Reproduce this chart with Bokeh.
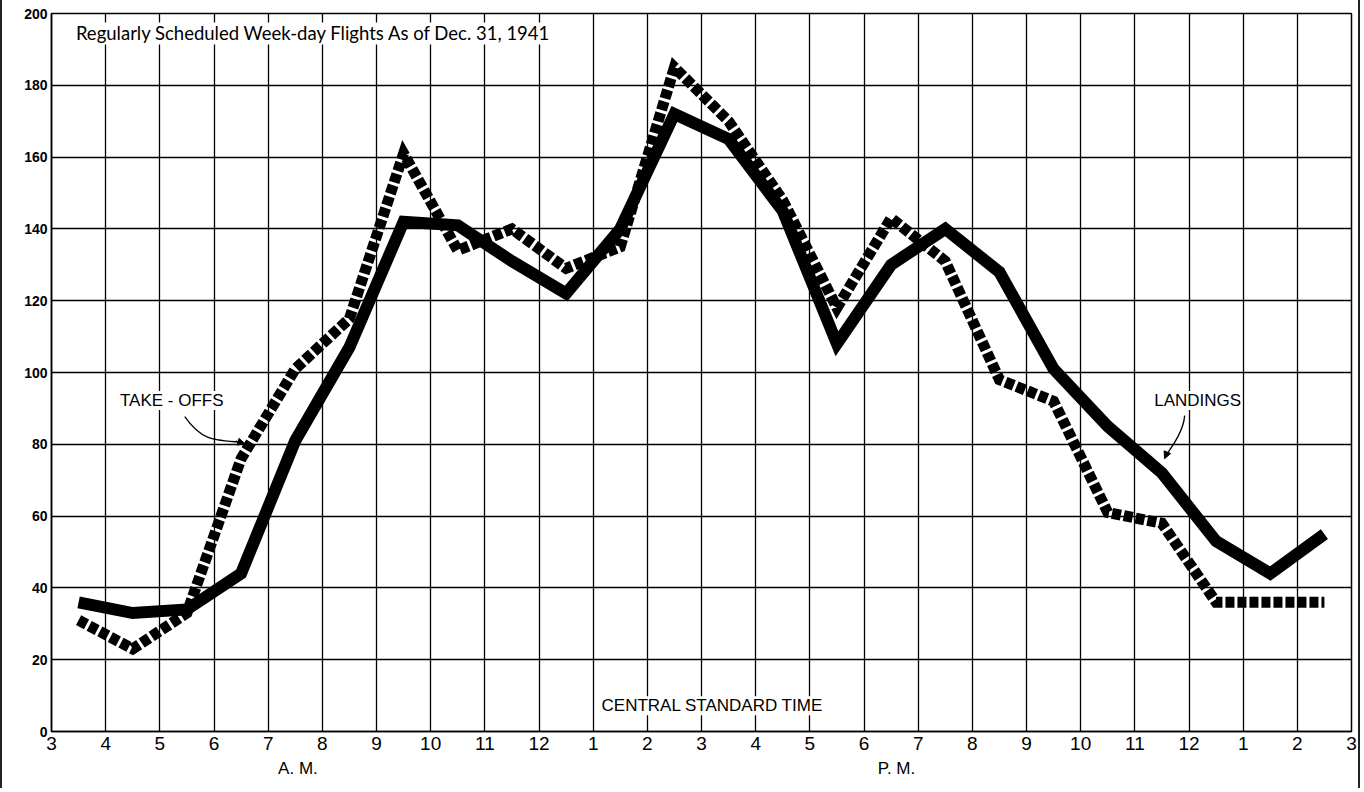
from bokeh.plotting import figure
from bokeh.models import (FixedTicker, Label, Arrow, NormalHead, Range1d, LinearAxis)
from bokeh.embed import file_html
from bokeh.resources import INLINE

# ---- data ----
hours = [3.5, 4.5, 5.5, 6.5, 7.5, 8.5, 9.5, 10.5, 11.5, 12.5, 13.5, 14.5,
         15.5, 16.5, 17.5, 18.5, 19.5, 20.5, 21.5, 22.5, 23.5, 24.5, 25.5, 26.5]
landings = [36, 33, 34, 44, 81, 107, 142, 141, 131, 122, 140, 172,
            165, 145, 108, 130, 140, 128, 101, 85, 72, 53, 44, 55]
takeoffs = [31, 23, 33, 76, 101, 115, 161, 134, 140, 129, 135, 185,
            170, 148, 118, 143, 131, 98, 92, 61, 58, 36, 36, 36]

x_ticks = list(range(3, 28))
x_tick_labels = ["3", "4", "5", "6", "7", "8", "9", "10", "11", "12", "1", "2",
                 "3", "4", "5", "6", "7", "8", "9", "10", "11", "12", "1", "2", "3"]
y_ticks = [0, 20, 40, 60, 80, 100, 120, 140, 160, 180, 200]
period_pos = [7.55, 18.6]
period_labels = ["A. M.", "P. M."]

title_text = "Regularly Scheduled Week-day Flights As of Dec. 31, 1941"

p = figure(width=1360, height=788, output_backend="svg", toolbar_location=None,
           x_range=Range1d(3, 27), y_range=Range1d(0, 200),
           min_border_left=49, min_border_right=11, min_border_top=13,
           min_border_bottom=57)
p.styles = {"border-left": "2px solid #222", "border-right": "2px solid #222"}

p.background_fill_color = "white"
p.border_fill_color = "white"
p.outline_line_color = "black"
p.outline_line_width = 1.5

# axes
p.xaxis.ticker = FixedTicker(ticks=x_ticks)
p.xaxis.major_label_overrides = {t: l for t, l in zip(x_ticks, x_tick_labels)}
p.yaxis.ticker = FixedTicker(ticks=y_ticks)
for ax in (p.xaxis, p.yaxis):
    ax.major_tick_in = 0
    ax.major_tick_out = 0
    ax.minor_tick_in = 0
    ax.minor_tick_out = 0
    ax.axis_line_color = "black"
    ax.axis_line_width = 1.5
    ax.major_label_text_color = "black"
p.xaxis.major_label_text_font = "Liberation Sans"
p.xaxis.major_label_text_font_size = "19px"
p.xaxis.major_label_standoff = 5
p.yaxis.major_label_text_font = "Liberation Sans"
p.yaxis.major_label_text_font_size = "14px"
p.yaxis.major_label_text_font_style = "bold"
p.yaxis.major_label_standoff = 4

# second axis for A.M. / P.M.
ax2 = LinearAxis(ticker=FixedTicker(ticks=period_pos),
                 major_label_overrides={t: l for t, l in zip(period_pos, period_labels)})
ax2.axis_line_color = None
ax2.major_tick_in = 0
ax2.major_tick_out = 0
ax2.minor_tick_in = 0
ax2.minor_tick_out = 0
ax2.major_label_standoff = 6
ax2.major_label_text_font = "Liberation Sans"
ax2.major_label_text_font_size = "17px"
ax2.major_label_text_color = "black"
p.add_layout(ax2, "below")

# grid
p.xgrid.ticker = FixedTicker(ticks=x_ticks)
p.ygrid.ticker = FixedTicker(ticks=y_ticks)
for g in (p.xgrid, p.ygrid):
    g.grid_line_color = "black"
    g.grid_line_width = 1.3
    g.grid_line_alpha = 1.0

# lines
p.line(hours, landings, line_color="black", line_width=12, line_join="miter",
       line_cap="butt")
p.line(hours, takeoffs, line_color="black", line_width=11, line_join="miter",
       line_cap="butt", line_dash="9 3")

# texts
p.add_layout(Label(x=3.45, y=197.5, text=title_text, text_font="Lato",
                   text_font_size="18.5px", text_color="black",
                   text_baseline="top", background_fill_color="white",
                   background_fill_alpha=1.0))
p.add_layout(Label(x=15.2, y=7.2, text="CENTRAL STANDARD TIME",
                   text_font="Liberation Sans", text_font_size="17px",
                   text_color="black",
                   text_align="center", text_baseline="middle",
                   background_fill_color="white"))
p.add_layout(Label(x=5.22, y=92.2, text="TAKE - OFFS",
                   text_font="Liberation Sans", text_font_size="17px",
                   text_color="black",
                   text_align="center", text_baseline="middle",
                   background_fill_color="white"))
p.add_layout(Label(x=24.16, y=92.2, text="LANDINGS",
                   text_font="Liberation Sans", text_font_size="17px",
                   text_color="black",
                   text_align="center", text_baseline="middle",
                   background_fill_color="white"))

# pointer curves
p.bezier(x0=[5.46], y0=[87.7], x1=[6.50], y1=[80.6], cx0=[5.75], cy0=[81.5],
         cx1=[5.95], cy1=[81.0], line_color="black", line_width=1.3)
p.add_layout(Arrow(end=NormalHead(size=7, fill_color="black", line_color="black"),
                   x_start=6.40, y_start=80.9, x_end=6.57, y_end=80.2,
                   line_color="black", line_width=1.3))
p.bezier(x0=[23.92], y0=[88.0], x1=[23.58], y1=[77.0], cx0=[23.90], cy0=[84.0],
         cx1=[23.72], cy1=[80.0], line_color="black", line_width=1.3)
p.add_layout(Arrow(end=NormalHead(size=7, fill_color="black", line_color="black"),
                   x_start=23.60, y_start=77.8, x_end=23.55, y_end=76.0,
                   line_color="black", line_width=1.3))

open("out.html", "w").write(file_html(p, INLINE))
